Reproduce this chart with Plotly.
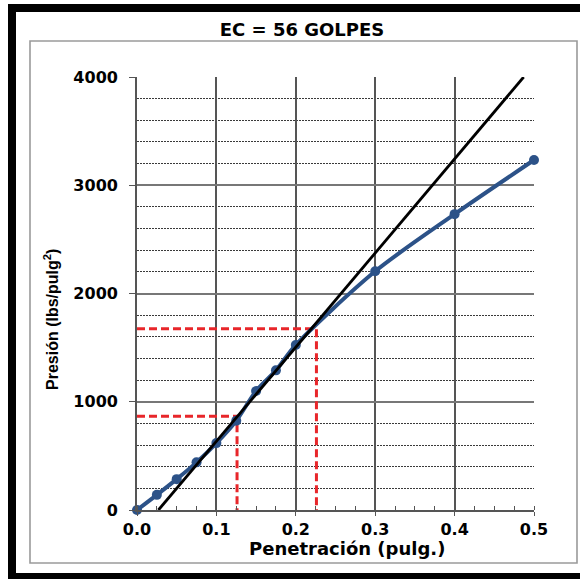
import plotly.graph_objects as go

# ---- data ----
penetracion = [0.0, 0.025, 0.05, 0.075, 0.1, 0.125, 0.15, 0.175, 0.2, 0.3, 0.4, 0.5]
presion = [0, 140, 285, 440, 618, 825, 1100, 1290, 1525, 2205, 2733, 3233]

tangente_x = [0.027, 0.487]
tangente_y = [0, 4000]

corr1_x = [0.0, 0.126, 0.126]
corr1_y = [865, 865, 0]
corr2_x = [0.0, 0.226, 0.226]
corr2_y = [1675, 1675, 0]

x_ticks = [0.0, 0.1, 0.2, 0.3, 0.4, 0.5]
x_ticklabels = ["0.0", "0.1", "0.2", "0.3", "0.4", "0.5"]
y_ticks = [0, 1000, 2000, 3000, 4000]

titulo = "EC = 56 GOLPES"
x_titulo = "Penetración (pulg.)"
y_titulo = "Presión (lbs/pulg<sup>2</sup>)"

# ---- layout geometry (pixels) ----
W, H = 580, 579
L, R, T, B = 137, 534, 77, 510


def px_x(p):
    return (p - L) / (R - L)


def px_y(p):
    return (B - p) / (B - T)


fig = go.Figure()

red = "#E8262A"
fig.add_trace(go.Scatter(x=corr1_x, y=corr1_y, mode="lines",
                         line=dict(color=red, width=3, dash="8px,4px"),
                         hoverinfo="skip", showlegend=False))
fig.add_trace(go.Scatter(x=corr2_x, y=corr2_y, mode="lines",
                         line=dict(color=red, width=3, dash="8px,4px"),
                         hoverinfo="skip", showlegend=False))
fig.add_trace(go.Scatter(x=penetracion, y=presion, mode="lines+markers",
                         line=dict(color="#2C5288", width=4, shape="spline", smoothing=0.8),
                         marker=dict(color="#2C5288", size=10),
                         cliponaxis=False, showlegend=False))
fig.add_trace(go.Scatter(x=tangente_x, y=tangente_y, mode="lines",
                         line=dict(color="black", width=2.8),
                         showlegend=False))

tick_font = dict(family="DejaVu Sans", size=16, color="black", weight="bold")

fig.update_xaxes(range=[0, 0.5], tickvals=x_ticks, ticktext=x_ticklabels,
                 showgrid=True, gridcolor="#555555", gridwidth=1.6,
                 showline=True, linecolor="#555555", linewidth=1.8,
                 ticks="outside", ticklen=4, tickcolor="#555555", tickwidth=1.4,
                 tickfont=tick_font, zeroline=False,
                 minor=dict(dtick=0.025, tick0=0, ticks="inside", ticklen=4,
                            tickcolor="#555555", tickwidth=1.2, showgrid=False))
fig.update_yaxes(range=[0, 4000], tickvals=y_ticks,
                 showgrid=True, gridcolor="#777777", gridwidth=1.5,
                 showline=True, linecolor="#555555", linewidth=1.8,
                 ticks="outside", ticklen=6, tickcolor="#555555", tickwidth=1.4,
                 tickfont=tick_font, zeroline=False, ticklabelstandoff=8,
                 minor=dict(dtick=200, tick0=0, ticks="", showgrid=True,
                            gridcolor="#3A3A3A", gridwidth=1, griddash="2px,1px"))

shapes = [
    # grey inner frame
    dict(type="rect", xref="paper", yref="paper", layer="below",
         x0=px_x(30), x1=px_x(577), y0=px_y(563), y1=px_y(41),
         line=dict(color="#9A9A9A", width=1.6)),
    # thick black outer frame
    dict(type="rect", xref="paper", yref="paper", layer="above",
         x0=px_x(12), x1=px_x(600), y0=px_y(577), y1=px_y(8),
         line=dict(color="black", width=8)),
]

annotations = [
    dict(text=x_titulo, xref="paper", yref="paper", x=px_x(347), y=px_y(548),
         xanchor="center", yanchor="middle", showarrow=False,
         font=dict(family="DejaVu Sans", size=18, color="black", weight="bold")),
    dict(text=y_titulo, xref="paper", yref="paper", x=px_x(51), y=px_y(320),
         xanchor="center", yanchor="middle", showarrow=False, textangle=-90,
         font=dict(family="Liberation Sans", size=16, color="black", weight="bold")),
]

fig.update_layout(
    width=W, height=H,
    margin=dict(l=L, r=W - R, t=T, b=H - B),
    paper_bgcolor="white", plot_bgcolor="white",
    title=dict(text=titulo, x=302 / W, xref="container", xanchor="center",
               y=1 - 30 / H, yref="container", yanchor="middle",
               font=dict(family="DejaVu Sans", size=18, color="black", weight="bold")),
    shapes=shapes, annotations=annotations,
)

fig.write_html("out.html")
